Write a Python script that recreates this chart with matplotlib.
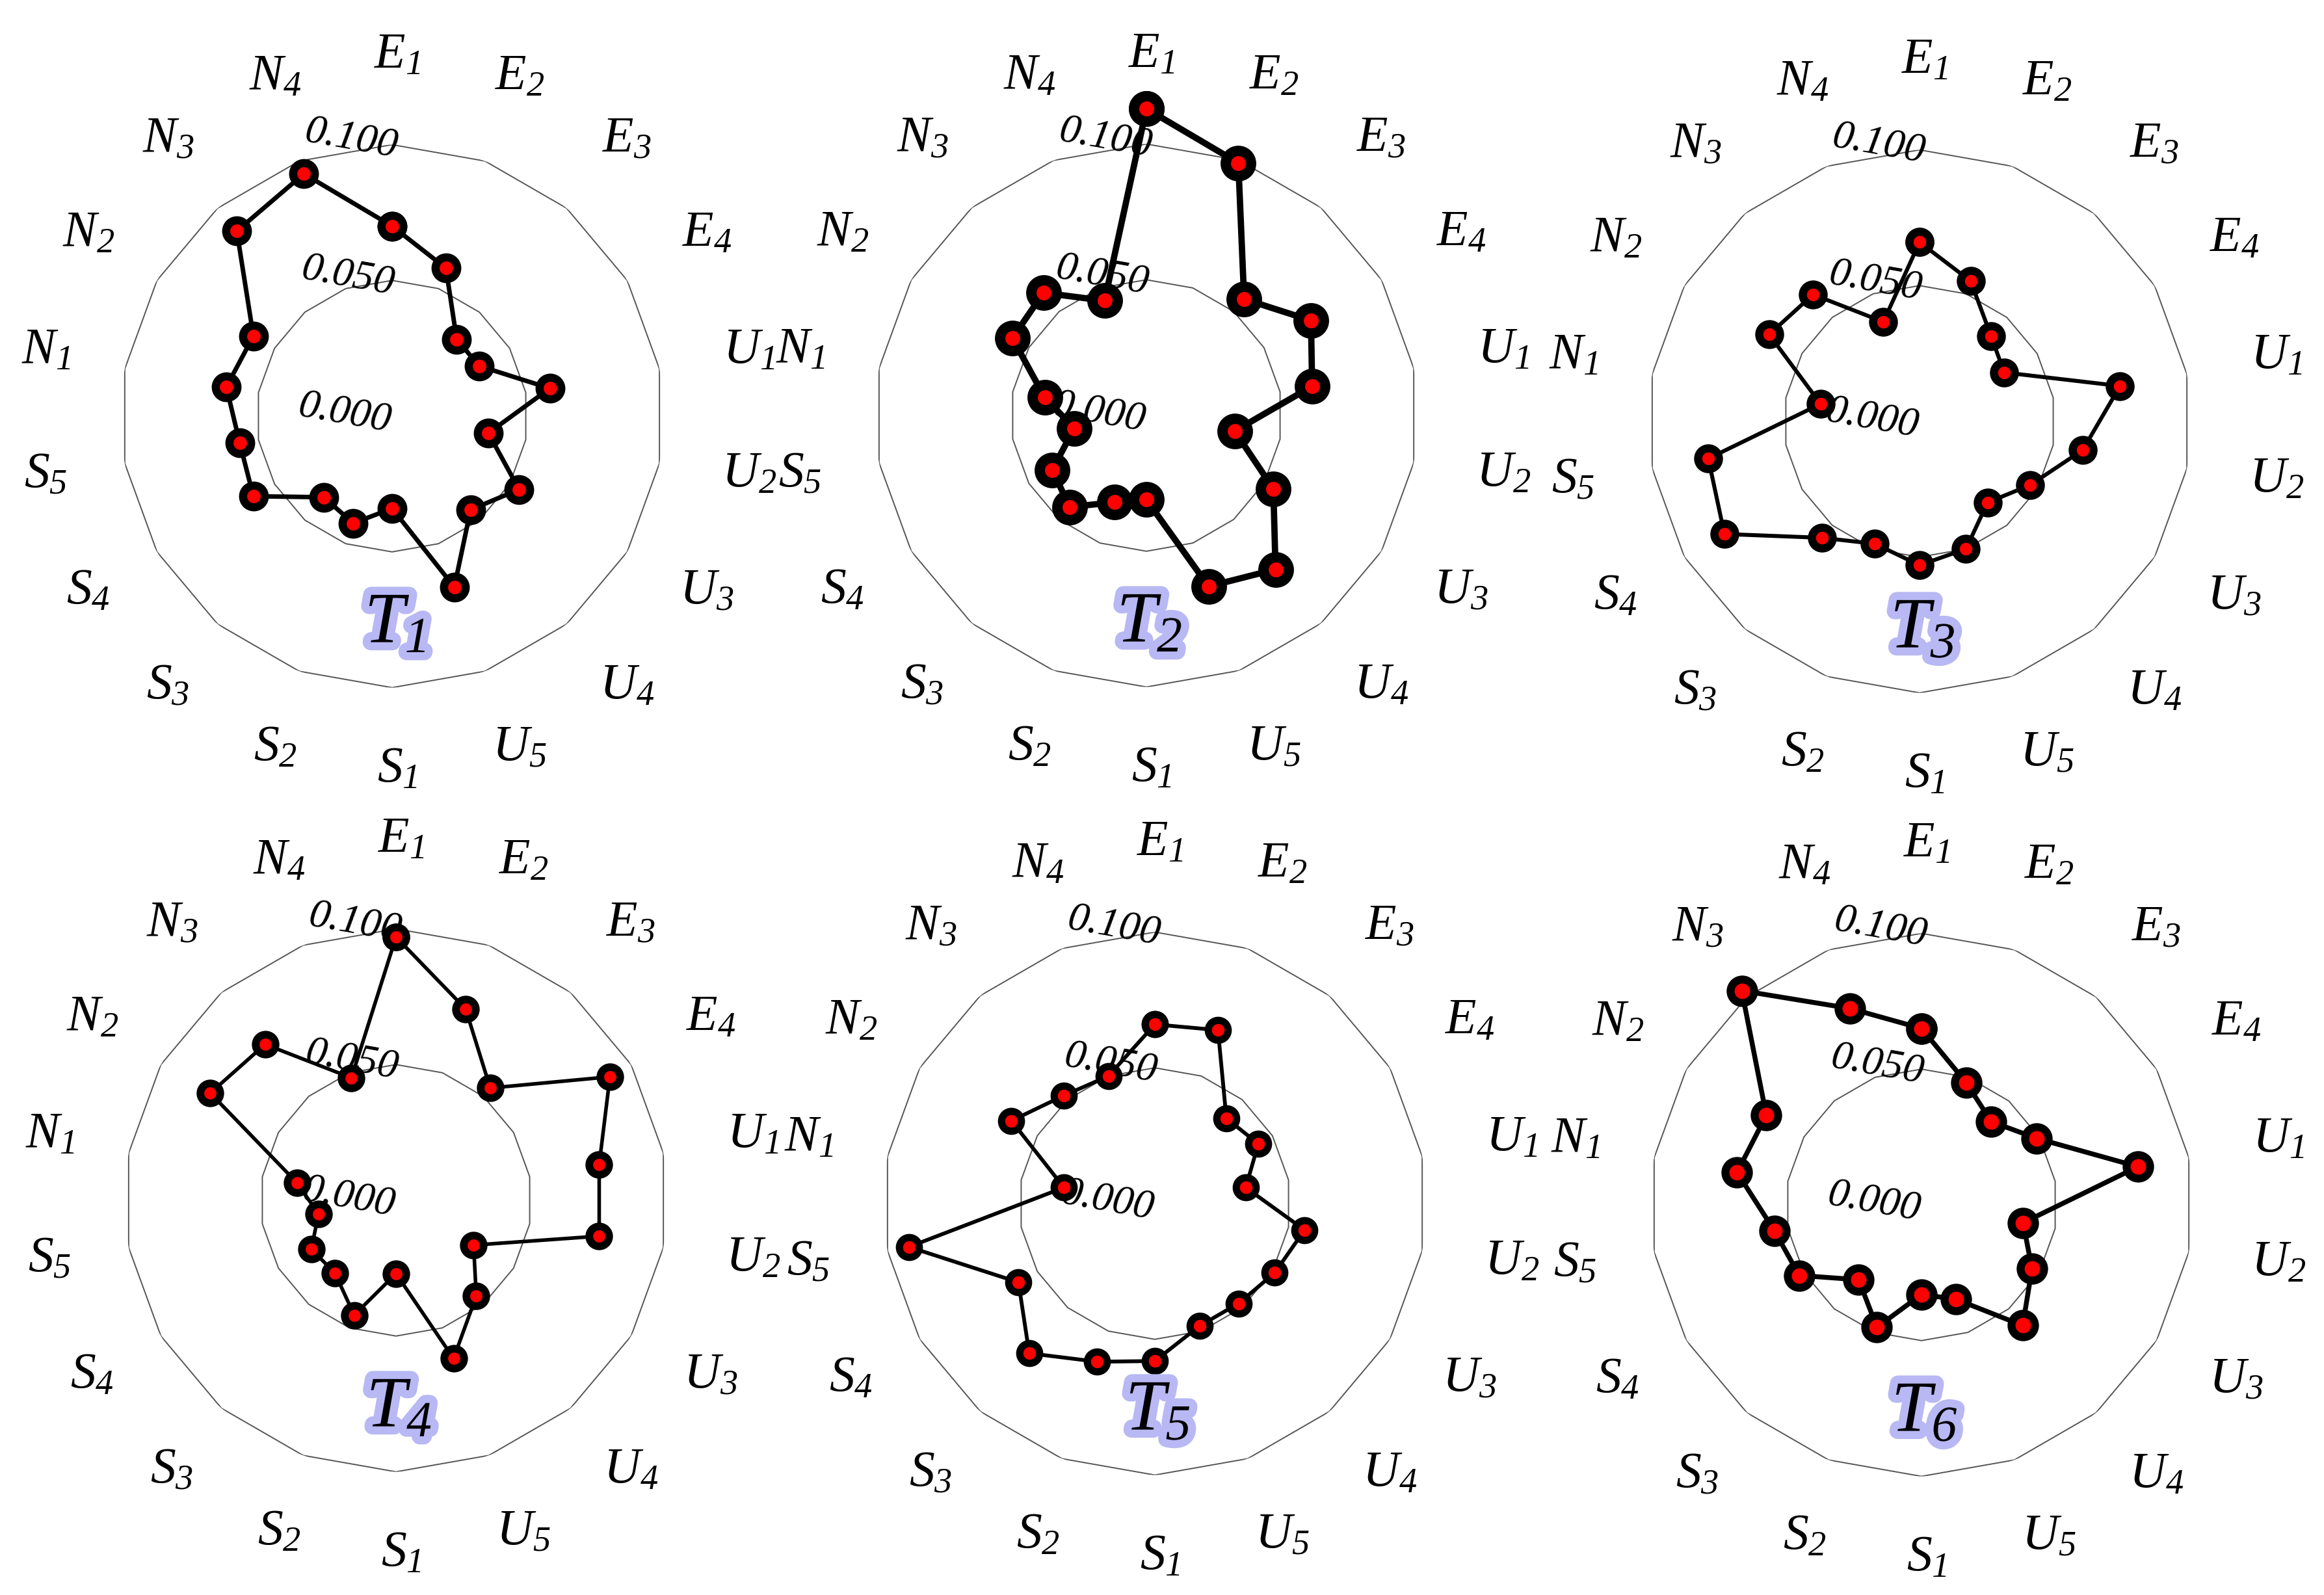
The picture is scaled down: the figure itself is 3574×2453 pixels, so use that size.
import numpy as np
import matplotlib
matplotlib.use("Agg")
import matplotlib.pyplot as plt
import matplotlib.patheffects as pe

plt.rcParams["font.family"] = ["Liberation Serif", "DejaVu Serif"]
plt.rcParams["mathtext.fontset"] = "custom"
plt.rcParams["mathtext.rm"] = "Liberation Serif:italic"
plt.rcParams["mathtext.it"] = "Liberation Serif:italic"

W, H, DPI = 3574, 2453, 100

# axes, clockwise from the top
CATEGORIES = ["E_1", "E_2", "E_3", "E_4", "U_1", "U_2", "U_3", "U_4", "U_5",
              "S_1", "S_2", "S_3", "S_4", "S_5", "N_1", "N_2", "N_3", "N_4"]
PANEL_NAMES = ["T_1", "T_2", "T_3", "T_4", "T_5", "T_6"]
RTICKS = [0.000, 0.050, 0.100]

t1 = [0.070, 0.058, 0.037, 0.037, 0.059, 0.036, 0.054, 0.045, 0.067,
      0.034, 0.042, 0.039, 0.059, 0.057, 0.062, 0.059, 0.089, 0.095]
t2 = [0.113, 0.099, 0.056, 0.070, 0.062, 0.033, 0.054, 0.074, 0.067,
      0.031, 0.034, 0.044, 0.040, 0.027, 0.038, 0.057, 0.059, 0.045]
t3 = [0.066, 0.055, 0.041, 0.036, 0.075, 0.061, 0.047, 0.039, 0.050,
      0.053, 0.048, 0.056, 0.083, 0.079, 0.037, 0.064, 0.061, 0.039]
t4 = [0.097, 0.075, 0.054, 0.091, 0.076, 0.076, 0.033, 0.046, 0.062,
      0.027, 0.045, 0.035, 0.036, 0.029, 0.037, 0.079, 0.075, 0.048]
t5 = [0.066, 0.068, 0.041, 0.044, 0.034, 0.056, 0.051, 0.048, 0.048,
      0.058, 0.062, 0.072, 0.058, 0.092, 0.034, 0.061, 0.052, 0.050]
t6 = [0.065, 0.048, 0.040, 0.049, 0.081, 0.038, 0.047, 0.058, 0.037,
      0.033, 0.048, 0.036, 0.052, 0.055, 0.069, 0.066, 0.103, 0.077]
SERIES = [t1, t2, t3, t4, t5, t6]

# layout (pixel centre of each radar) and per-panel marker / line styles
CENTERS = [(603, 640), (1763, 639), (2952, 648), (609, 1846), (1776, 1851), (2955, 1853)]
STYLES = [  # markersize, markeredgewidth, linewidth (pt)
    (24, 9.0, 5.0),
    (28, 11.5, 7.0),
    (23, 9.0, 4.4),
    (22, 8.5, 4.0),
    (22, 8.0, 4.2),
    (26, 8.8, 5.4),
]
R_PX = 417.5   # radius of the 0.1 polygon in pixels
RMAX = 0.1

fig = plt.figure(figsize=(W / DPI, H / DPI), dpi=DPI)

n = len(CATEGORIES)
theta = np.arange(n) * 2 * np.pi / n
closed_t = np.append(theta, theta[0])

for name, values, (cx, cy), (ms, mew, lw) in zip(PANEL_NAMES, SERIES, CENTERS, STYLES):
    ax = fig.add_axes([(cx - R_PX) / W, 1 - (cy + R_PX) / H, 2 * R_PX / W, 2 * R_PX / H],
                      projection="polar")
    ax.set_theta_zero_location("N")
    ax.set_theta_direction(-1)
    ax.set_ylim(0, RMAX)
    ax.set_xticks([])
    ax.set_yticks([])
    ax.grid(False)
    ax.spines["polar"].set_visible(False)
    ax.patch.set_visible(False)

    # polygon grid
    for r in RTICKS[1:]:
        ax.plot(closed_t, np.full(n + 1, r), color="#555555", lw=1.4, zorder=1)

    # radial tick labels, just left of the top spoke
    for r in RTICKS:
        f = r / RMAX
        ax.text(0.5 + (-0.174 + 0.024 * f) / 2, 0.5 + (0.01 + 1.01 * f) / 2, f"{r:.3f}",
                transform=ax.transAxes, rotation=-10, ha="center", va="center",
                fontsize=46, style="italic", zorder=2)

    vals = np.append(values, values[0])
    ax.plot(closed_t, vals, color="black", lw=lw, marker="o", ms=ms,
            mfc="red", mec="black", mew=mew, clip_on=False, zorder=3)

    # category labels (ring sits a little right of / above the centre, as in the original)
    for th, lab in zip(theta, CATEGORIES):
        ax.annotate(f"${lab}$", xy=(th, 0.1315), xytext=(6, 4), textcoords="offset points",
                    ha="center", va="center", fontsize=56, annotation_clip=False)

    ax.text(np.pi - 0.015, 0.077, f"${name}$", ha="center", va="center", fontsize=80, zorder=4,
            path_effects=[pe.withStroke(linewidth=18, foreground="#b8b8f4", joinstyle="round")])

fig.savefig("out.png", dpi=DPI, facecolor="white")
